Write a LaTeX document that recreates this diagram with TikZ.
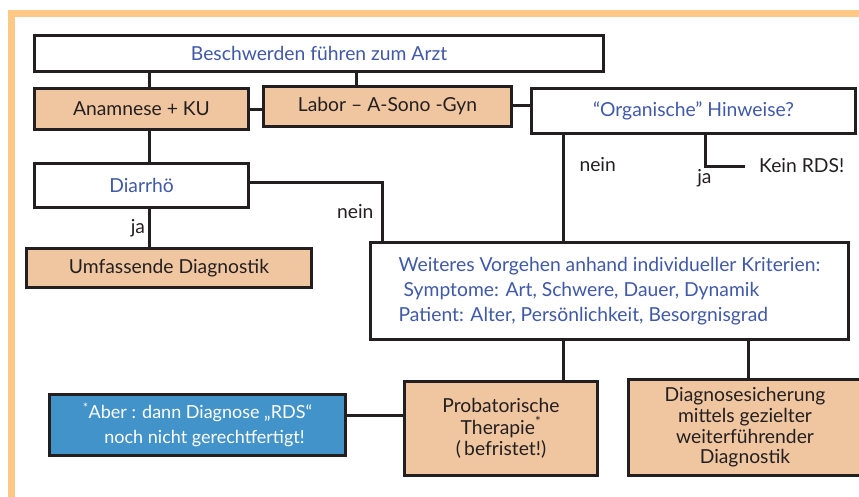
\documentclass[tikz,border=0pt]{standalone}
\usepackage{fontspec}
\setmainfont{Lato}
\usetikzlibrary{positioning}
\definecolor{framecol}{HTML}{FFC985}
\definecolor{tancol}{HTML}{F0C6A1}
\definecolor{bluefill}{HTML}{4393CB}
\definecolor{bluetext}{HTML}{4059A8}
\definecolor{linecol}{HTML}{231F20}

\begin{document}
\begin{tikzpicture}[x=1pt, y=-1pt,
  box/.style={draw=linecol, line width=3pt, inner sep=2pt, font=\fontsize{19.3}{22}\selectfont},
  whitebox/.style={box, fill=white, text=bluetext},
  tanbox/.style={box, fill=tancol, text=linecol, align=center},
  conn/.style={draw=linecol, line width=3pt},
  lbl/.style={text=linecol, font=\fontsize{19.3}{22}\selectfont, inner sep=1pt}]
\useasboundingbox (0,0) rectangle (859,496);
\clip (0,0) rectangle (859,496);
\draw[framecol, line width=7pt] (11.5,500) -- (11.5,13.5) -- (865,13.5);

\node[whitebox, minimum width=569, minimum height=36] (beschwerden) at (319,53.5) {Beschwerden führen zum Arzt};
\node[tanbox, minimum width=214, minimum height=41] (anamnese) at (141.5,109) {Anamnese + KU};
\node[tanbox, minimum width=248, minimum height=40] (labor) at (387.5,106.5) {Labor – A-Sono -Gyn};
\node[whitebox, minimum width=324, minimum height=45] (organisch) at (693.5,111) {“Organische” Hinweise?};
\node[whitebox, minimum width=214, minimum height=44] (diarrhoe) at (141.5,185.5) {Diarrhö};
\node[tanbox, minimum width=285, minimum height=39] (umfassend) at (169,268) {Umfassende Diagnostik};
\node[whitebox, minimum width=478, minimum height=97, align=left, font=\fontsize{19.3}{25}\selectfont] (weiteres) at (609.5,291) {Weiteres Vorgehen anhand individueller Kriterien:\\\hspace{5pt}Symptome: Art, Schwere, Dauer, Dynamik\\Patient: Alter, Persönlichkeit, Besorgnisgrad};
\node[tanbox, minimum width=193, minimum height=94, font=\fontsize{19.3}{21.5}\selectfont] (probat) at (501,428.5) {Probatorische\\Therapie\textsuperscript{*}\\(\,befristet!)};
\node[tanbox, minimum width=233, minimum height=96, font=\fontsize{19.3}{20.7}\selectfont] (sicherung) at (745,427.5) {Diagnosesicherung\\mittels gezielter\\weiterführender\\Diagnostik};
\node[box, fill=bluefill, text=white, align=center, minimum width=296, minimum height=61, font=\fontsize{18}{25}\selectfont] (aber) at (197.5,425) {\textsuperscript{*}Aber : dann Diagnose „RDS“\\\hspace{14pt}noch nicht gerechtfertigt!};
\node[lbl, anchor=west, inner xsep=14pt] (keinrds) at (745,166) {Kein RDS!};

\draw[conn] ([xshift=8]anamnese.north) -- ([xshift=8]anamnese.north |- beschwerden.south);
\draw[conn] ([xshift=-31]labor.north) -- ([xshift=-31]labor.north |- beschwerden.south);
\draw[conn] (anamnese.east) -- (anamnese.east -| labor.west);
\draw[conn] ([yshift=1]labor.east) -- ([yshift=1]labor.east -| organisch.west);
\draw[conn] ([xshift=8]anamnese.south) -- ([xshift=8]diarrhoe.north);
\draw[conn] ([xshift=8]diarrhoe.south) -- node[lbl, left=2pt] (ja1) {ja} ([xshift=8]diarrhoe.south |- umfassend.north);
\draw[conn] ([yshift=3]diarrhoe.east) -| node[lbl, pos=0.75, left=6pt] (nein1) {nein} ([xshift=13]weiteres.north west);
\draw[conn] ([xshift=33]organisch.south west) -- node[lbl, pos=0.28, right=14pt] (nein2) {nein} ([xshift=33]organisch.south west |- weiteres.north);
\draw[conn] ([xshift=175]organisch.south west) |- node[lbl, pos=0.5, below left=1pt and -9pt] (ja2) {ja} (keinrds.west);
\draw[conn] ([xshift=62]probat.north) -- ([xshift=62]probat.north |- weiteres.south);
\draw[conn] ([xshift=3]sicherung.north) -- ([xshift=3]sicherung.north |- weiteres.south);
\draw[conn] ([yshift=10]aber.east) -- ([yshift=10]aber.east -| probat.west);
\end{tikzpicture}
\end{document}
